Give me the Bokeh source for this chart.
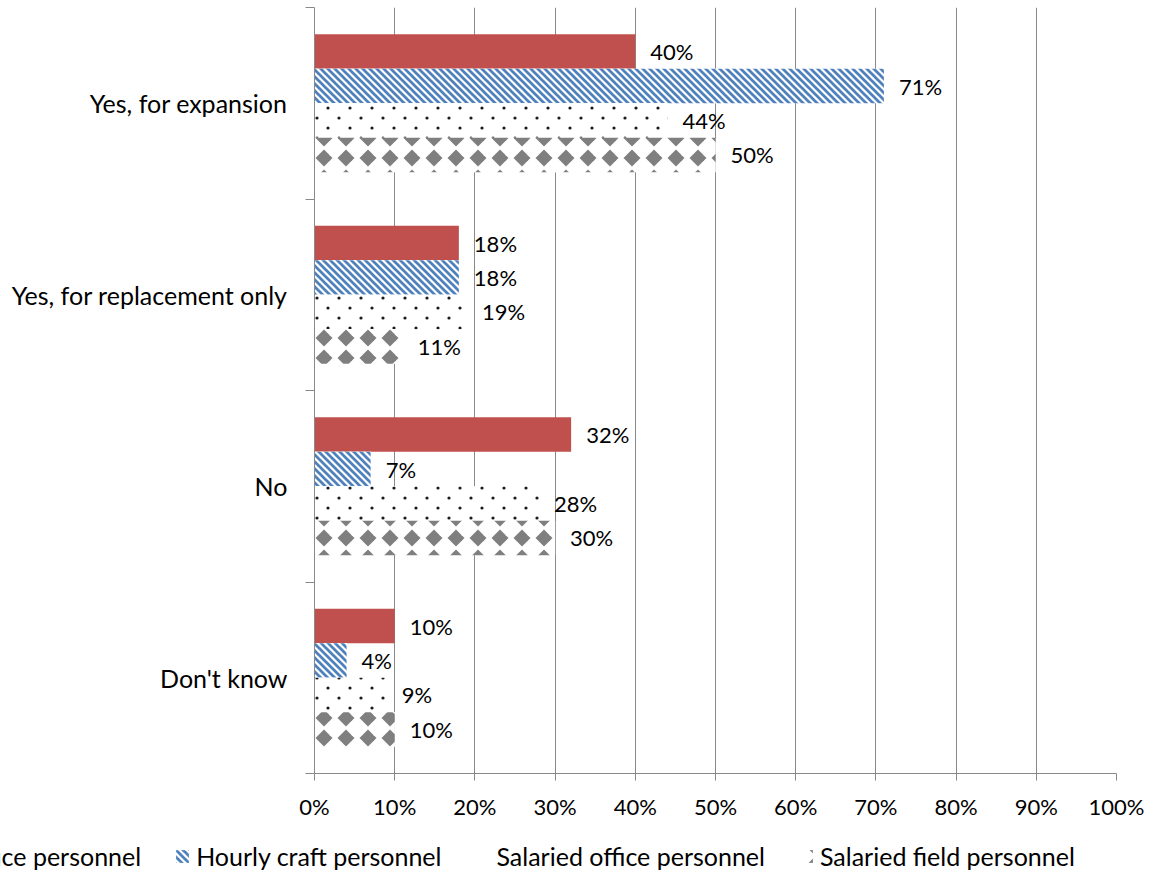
import base64
from bokeh.plotting import figure
from bokeh.models import (Range1d, FixedTicker, PrintfTickFormatter, Legend, LegendItem,
                          ImageURLTexture, ColumnDataSource)
from bokeh.core.properties import value
from bokeh.embed import file_html
from bokeh.resources import INLINE

# ---------------- data ----------------
categories = ["Yes, for expansion", "Yes, for replacement only", "No", "Don't know"]
series_names = ["Hourly office personnel", "Hourly craft personnel",
                "Salaried office personnel", "Salaried field personnel"]
hourly_office = [40, 18, 32, 10]
hourly_craft = [71, 18, 7, 4]
salaried_office = [44, 19, 28, 9]
salaried_field = [50, 11, 30, 10]
x_tick_values = [0, 10, 20, 30, 40, 50, 60, 70, 80, 90, 100]

# ---------------- styles ----------------
GRID = "#898989"
FONT = "Lato"


def svg_uri(svg):
    return "data:image/svg+xml;base64," + base64.b64encode(svg.encode()).decode()


def diamond(cx, cy, rx=8.5, ry=8.5):
    return (f'<polygon points="{cx},{cy-ry} {cx+rx},{cy} {cx},{cy+ry} {cx-rx},{cy}" '
            f'fill="#7f7f7f"/>')


stripe_svg = ('<svg xmlns="http://www.w3.org/2000/svg" width="7" height="7">'
              '<rect width="7" height="7" fill="white"/>'
              '<g stroke="#4F81BD" stroke-width="2.7">'
              '<line x1="-7" y1="-7" x2="14" y2="14"/>'
              '<line x1="-14" y1="-7" x2="7" y2="14"/>'
              '<line x1="0" y1="-7" x2="21" y2="14"/></g></svg>')
dots_svg = ('<svg xmlns="http://www.w3.org/2000/svg" width="22" height="20">'
            '<rect width="22" height="20" fill="white"/>'
            '<circle cx="20" cy="8" r="1.6" fill="#1a1a1a"/>'
            '<circle cx="9" cy="18" r="1.6" fill="#1a1a1a"/></svg>')
diam_svg = ('<svg xmlns="http://www.w3.org/2000/svg" width="22" height="20">'
            '<rect width="22" height="20" fill="white"/>'
            + diamond(16, 18) + diamond(-6, 18) + diamond(16, -2) + diamond(-6, -2)
            + '</svg>')

styles = [
    dict(fill_color="#C0504D"),
    dict(fill_color="white", hatch_pattern=value("stripes"),
         hatch_extra={"stripes": ImageURLTexture(url=svg_uri(stripe_svg), repetition="repeat")}),
    dict(fill_color="white", hatch_pattern=value("dots"),
         hatch_extra={"dots": ImageURLTexture(url=svg_uri(dots_svg), repetition="repeat")}),
    dict(fill_color="white", hatch_pattern=value("diamonds"),
         hatch_extra={"diamonds": ImageURLTexture(url=svg_uri(diam_svg), repetition="repeat")}),
]

n = len(categories)
cat_y = [2 * (n - 1 - i) + 1 for i in range(n)]   # band centres (band width 2)
bar_h = 0.36
offsets = [1.5 * bar_h, 0.5 * bar_h, -0.5 * bar_h, -1.5 * bar_h]

p = figure(width=1164, height=833, output_backend="svg", toolbar_location=None,
           x_range=Range1d(0, 100), y_range=Range1d(0, 2 * n),
           min_border_left=314, min_border_right=48, min_border_top=7, min_border_bottom=60)
p.outline_line_color = None
p.background_fill_color = "white"
p.border_fill_color = "white"

# grid
p.xgrid.ticker = FixedTicker(ticks=x_tick_values)
p.xgrid.grid_line_color = GRID
p.ygrid.grid_line_color = None

# x axis
p.xaxis.ticker = FixedTicker(ticks=x_tick_values, minor_ticks=[])
p.xaxis.formatter = PrintfTickFormatter(format="%d%%")
p.xaxis.axis_line_color = GRID
p.xaxis.major_tick_line_color = GRID
p.xaxis.major_tick_out = 7
p.xaxis.major_tick_in = 0
p.xaxis.minor_tick_line_color = None
p.xaxis.major_label_text_font = FONT
p.xaxis.major_label_text_font_size = "22px"
p.xaxis.major_label_text_color = "black"
p.xaxis.major_label_standoff = 12

# y axis (category labels at centres, tick marks at band boundaries)
p.yaxis.ticker = FixedTicker(ticks=cat_y, minor_ticks=list(range(0, 2 * n + 1, 2)))
p.yaxis.major_label_overrides = {y: c for y, c in zip(cat_y, categories)}
p.yaxis.axis_line_color = GRID
p.yaxis.major_tick_line_color = None
p.yaxis.major_tick_out = 0
p.yaxis.major_tick_in = 0
p.yaxis.minor_tick_line_color = GRID
p.yaxis.minor_tick_out = 9
p.yaxis.minor_tick_in = 0
p.yaxis.major_label_text_font = FONT
p.yaxis.major_label_text_font_size = "25px"
p.yaxis.major_label_text_color = "black"
p.yaxis.major_label_standoff = 18

all_values = [hourly_office, hourly_craft, salaried_office, salaried_field]
for k, vals in enumerate(all_values):
    src = ColumnDataSource(dict(
        y=[cy + offsets[k] for cy in cat_y],
        right=vals,
        label=[f"{v}%" for v in vals],
    ))
    p.hbar(y="y", left=0, right="right", height=bar_h, source=src,
           line_color=None, **styles[k])
    p.text(x="right", y="y", text="label", source=src, x_offset=15,
           text_align="left", text_baseline="middle",
           text_font=value(FONT), text_font_size="22px", text_color="black")

# ---------------- legend strip (own root so the first item is cut at the left edge) ----
lf = figure(width=1164, height=40, output_backend="svg", toolbar_location=None,
            x_range=Range1d(0, 1164), y_range=Range1d(0, 40), min_border=0)
lf.axis.visible = False
lf.grid.grid_line_color = None
lf.outline_line_color = None
items = []
for k, name in enumerate(series_names):
    # proxy renderer (kept outside the visible range) that only supplies the legend swatch
    r = lf.hbar(y=[-1000], left=[0], right=[1], height=1, line_color=None, **styles[k])
    items.append(LegendItem(label=name, renderers=[r]))

legend = Legend(items=items, orientation="horizontal", location=(-137, 2),
                glyph_width=16, glyph_height=16, label_standoff=6, spacing=33,
                label_height=30, padding=0, margin=0, border_line_color=None,
                background_fill_alpha=0,
                label_text_font=FONT, label_text_font_size="25px", label_text_color="black")
lf.add_layout(legend)

open("out.html", "w").write(file_html([p, lf], INLINE))
